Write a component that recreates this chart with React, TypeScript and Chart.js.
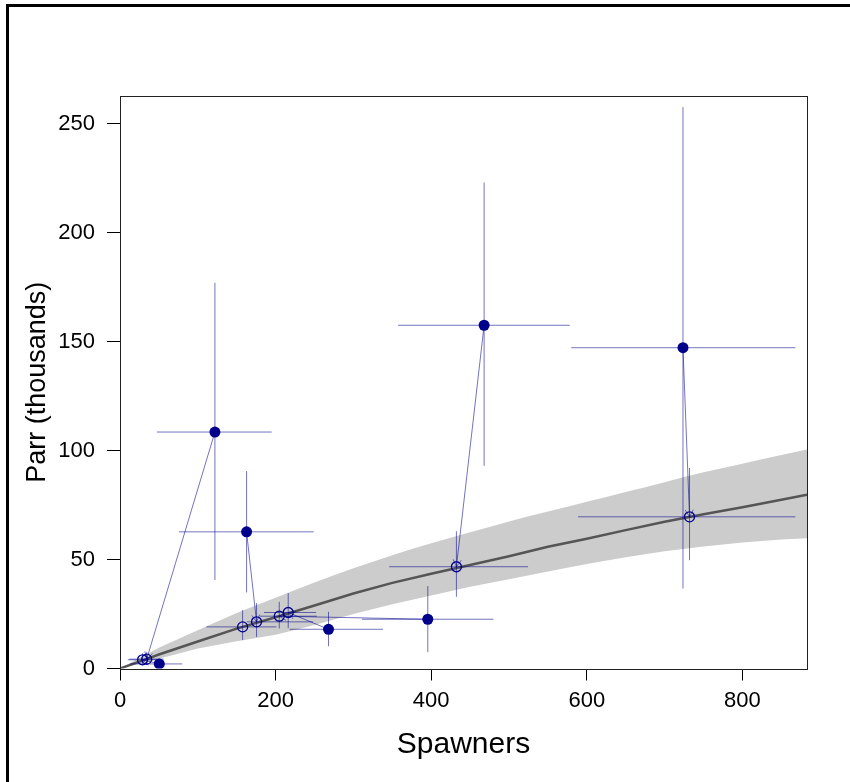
import React, { useEffect, useRef } from 'react';
import { Chart, registerables } from 'chart.js';

Chart.register(...registerables);

// Observed (filled) points with error ranges
const obsX = [122, 162.7, 50.5, 268, 395.6, 468, 723.6];
const obsY = [108.5, 62.7, 2.1, 18, 22.6, 157.5, 147.2];
const obsXlo = [47.5, 75.8, 13, 218, 311, 357.5, 580];
const obsXhi = [195, 249, 80, 338, 480, 578, 868];
const obsYlo = [40.6, 34.9, 0.5, 10.2, 7.5, 93, 36.7];
const obsYhi = [177, 90.6, 4, 26, 37.8, 223, 257.6];

// Estimated (open) points with error ranges
const estX = [34.3, 175.5, 29, 204.7, 216.2, 432.4, 732, 157.6];
const estY = [4.3, 21.4, 4.0, 24.0, 25.7, 46.7, 69.6, 19.1];
const estXlo = [12, 163, 10, 180, 185, 346, 588.7, 111];
const estXhi = [56, 248, 50, 253, 252, 524.5, 868, 201];
const estYlo = [1.5, 14.5, 1.5, 18.4, 18.5, 32.9, 49.7, 13];
const estYhi = [7.5, 30, 7, 30.6, 34.6, 63, 92, 26.8];

// arrow pairs: observed index -> estimated index
const arrowFrom = [0, 1, 2, 3, 4, 5, 6];
const arrowTo = [0, 1, 2, 4, 3, 5, 6];

// Fitted curve and credible band
const curveX = [0, 34, 50, 100, 150, 200, 250, 300, 350, 400, 450, 500, 550, 600, 650, 700, 750, 800, 850, 883];
const curveMid = [0, 4.3, 6.4, 12.4, 18.3, 23.5, 28.9, 34.4, 39.3, 43.5, 47.5, 51.5, 55.9, 59.5, 63.5, 67.3, 70.8, 74, 77.4, 79.7];
const curveUp = [0, 6.5, 9.5, 17.6, 25.5, 32.5, 39.5, 46, 52, 57.5, 62.5, 67.5, 72, 76.5, 81, 85.5, 90, 94, 98, 100.5];
const curveLo = [0, 3, 4.5, 9.2, 12.5, 15.5, 20, 25, 29.5, 33.5, 37.5, 41, 44.5, 48, 51, 53.8, 56, 57.8, 59.2, 59.8];

const xTicks = [0, 200, 400, 600, 800];
const yTicks = [0, 50, 100, 150, 200, 250];
const xMax = 883;
const yMax = 262.7;

const FONT = '"Liberation Sans", Arial, sans-serif';
const BAR = 'rgba(0,0,139,0.55)';
const DOT = '#00008B';

export default function App() {
  const ref = useRef<HTMLCanvasElement>(null);

  useEffect(() => {
    const canvas = ref.current;
    if (!canvas) return;

    const bars: any[] = [];
    const addBars = (xs: number[], ys: number[], xlo: number[], xhi: number[], ylo: number[], yhi: number[]) => {
      xs.forEach((x, i) => {
        bars.push({ x: xlo[i], y: ys[i] }, { x: xhi[i], y: ys[i] }, { x: x, y: null });
        bars.push({ x: x, y: ylo[i] }, { x: x, y: yhi[i] }, { x: x, y: null });
      });
    };
    addBars(obsX, obsY, obsXlo, obsXhi, obsYlo, obsYhi);
    addBars(estX, estY, estXlo, estXhi, estYlo, estYhi);

    const arrows: any[] = [];
    arrowFrom.forEach((f, k) => {
      const t = arrowTo[k];
      arrows.push({ x: obsX[f], y: obsY[f] }, { x: estX[t], y: estY[t] }, { x: estX[t], y: null });
    });

    const line = (xs: number[], ys: number[]) => xs.map((x, i) => ({ x, y: ys[i] }));

    const arrowHeads = {
      id: 'arrowHeads',
      afterDatasetDraw(chart: any, args: any) {
        if (args.index !== 4) return;
        const xs = chart.scales.x;
        const ys = chart.scales.y;
        const c = chart.ctx;
        c.save();
        c.beginPath();
        c.rect(chart.chartArea.left, chart.chartArea.top, chart.chartArea.right - chart.chartArea.left, chart.chartArea.bottom - chart.chartArea.top);
        c.clip();
        c.strokeStyle = BAR;
        c.lineWidth = 1;
        arrowFrom.forEach((f, k) => {
          const t = arrowTo[k];
          const x0 = xs.getPixelForValue(obsX[f]);
          const y0 = ys.getPixelForValue(obsY[f]);
          const x1 = xs.getPixelForValue(estX[t]);
          const y1 = ys.getPixelForValue(estY[t]);
          const a = Math.atan2(y1 - y0, x1 - x0);
          const L = 8;
          c.beginPath();
          c.moveTo(x1 - L * Math.cos(a - Math.PI / 6), y1 - L * Math.sin(a - Math.PI / 6));
          c.lineTo(x1, y1);
          c.lineTo(x1 - L * Math.cos(a + Math.PI / 6), y1 - L * Math.sin(a + Math.PI / 6));
          c.stroke();
        });
        c.restore();
      },
    };

    const boxPlugin = {
      id: 'box',
      afterDraw(chart: any) {
        const { left, top, right, bottom } = chart.chartArea;
        const c = chart.ctx;
        c.save();
        c.strokeStyle = '#222';
        c.lineWidth = 1;
        c.strokeRect(Math.round(left) + 0.5, Math.round(top) + 0.5, Math.round(right - left), Math.round(bottom - top));
        c.restore();
      },
    };

    const chart = new Chart(canvas, {
      type: 'scatter',
      data: {
        datasets: [
          { label: 'lo', data: line(curveX, curveLo), showLine: true, borderWidth: 0, pointRadius: 0, borderColor: 'rgba(0,0,0,0)', order: 7 } as any,
          { label: 'up', data: line(curveX, curveUp), showLine: true, borderWidth: 0, pointRadius: 0, borderColor: 'rgba(0,0,0,0)', backgroundColor: '#CCCCCC', fill: '-1', cubicInterpolationMode: 'monotone', order: 6 } as any,
          { label: 'mid', data: line(curveX, curveMid), showLine: true, borderWidth: 2.5, pointRadius: 0, borderColor: '#555555', order: 5 } as any,
          { label: 'bars', data: bars, showLine: true, spanGaps: false, borderWidth: 1, pointRadius: 0, borderColor: BAR, order: 4 } as any,
          { label: 'arrows', data: arrows, showLine: true, spanGaps: false, borderWidth: 1, pointRadius: 0, borderColor: BAR, order: 3 } as any,
          { label: 'est', data: line(estX, estY), pointRadius: 5, pointBorderWidth: 1.3, pointBackgroundColor: 'rgba(0,0,0,0)', pointBorderColor: DOT, order: 2 } as any,
          { label: 'obs', data: line(obsX, obsY), pointRadius: 5.5, pointBorderWidth: 0, pointBackgroundColor: DOT, pointBorderColor: DOT, order: 1 } as any,
        ],
      },
      options: {
        responsive: false,
        animation: false,
        devicePixelRatio: 1,
        layout: { padding: { top: 96, right: 43, left: 0, bottom: 0 } },
        plugins: { legend: { display: false }, tooltip: { enabled: false } },
        scales: {
          x: {
            type: 'linear',
            min: 0,
            max: xMax,
            afterBuildTicks: (s: any) => { s.ticks = xTicks.map((v) => ({ value: v })); },
            afterFit: (s: any) => { s.height = 113.5; },
            grid: { display: true, drawOnChartArea: false, drawTicks: true, tickLength: 12, color: '#000', lineWidth: 1 },
            border: { display: false },
            ticks: { color: '#000', font: { family: FONT, size: 22 }, padding: 7, maxRotation: 0 },
            title: { display: true, text: 'Spawners', color: '#000', font: { family: FONT, size: 30 }, padding: { top: 0, bottom: 19 } },
          },
          y: {
            type: 'linear',
            min: 0,
            max: yMax,
            afterBuildTicks: (s: any) => { s.ticks = yTicks.map((v) => ({ value: v })); },
            afterFit: (s: any) => { s.width = 120; },
            grid: { display: true, drawOnChartArea: false, drawTicks: true, tickLength: 13, color: '#000', lineWidth: 1 },
            border: { display: false },
            ticks: { color: '#000', font: { family: FONT, size: 22 }, padding: 12 },
            title: { display: true, text: 'Parr (thousands)', color: '#000', font: { family: FONT, size: 27 }, padding: { top: 21, bottom: 0 } },
          },
        },
      },
      plugins: [arrowHeads, boxPlugin],
    });

    return () => chart.destroy();
  }, []);

  return (
    <div style={{ position: 'absolute', left: 0, top: 0, width: 850, height: 782, background: '#fff', overflow: 'hidden' }}>
      <canvas ref={ref} width={850} height={782} style={{ position: 'absolute', left: 0, top: 0, width: 850, height: 782 }} />
      <div style={{ position: 'absolute', left: 6, top: 4, width: 900, height: 900, borderLeft: '3px solid #000', borderTop: '3px solid #000', pointerEvents: 'none' }} />
    </div>
  );
}
